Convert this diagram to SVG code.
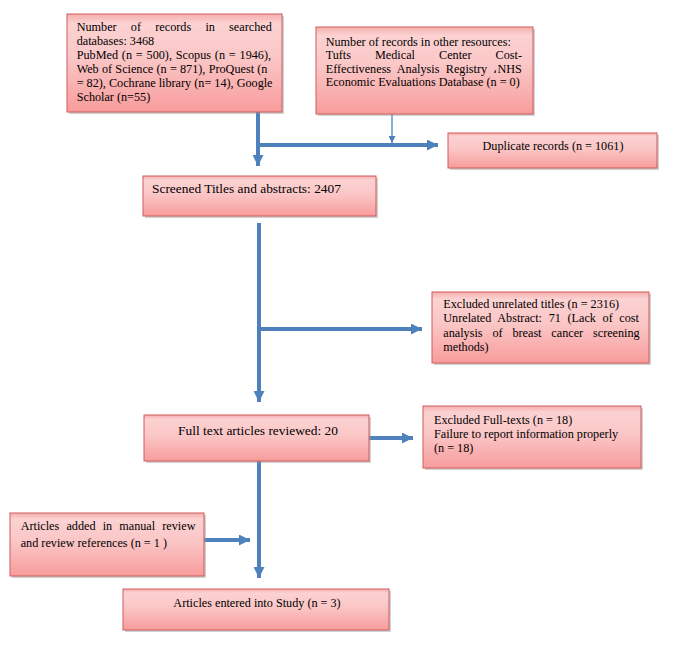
<svg xmlns="http://www.w3.org/2000/svg" width="675" height="645" viewBox="0 0 675 645">
<defs>
<linearGradient id="pink" x1="0" y1="0" x2="0" y2="1">
<stop offset="0" stop-color="#f5aeae"/>
<stop offset="0.1" stop-color="#fcd2d2"/>
<stop offset="0.45" stop-color="#fbc6c6"/>
<stop offset="1" stop-color="#f89c9c"/>
</linearGradient>
<marker id="ah" viewBox="0 0 10 10" refX="10" refY="5" markerWidth="11" markerHeight="11" markerUnits="userSpaceOnUse" orient="auto">
<path d="M0,0 L10,5 L0,10 z" fill="#4f81bd"/>
</marker>
<marker id="ahs" viewBox="0 0 10 10" refX="10" refY="5" markerWidth="7" markerHeight="7" markerUnits="userSpaceOnUse" orient="auto">
<path d="M0,0 L10,5 L0,10 z" fill="#4f81bd"/>
</marker>
</defs>
<style>
.box{fill:url(#pink);stroke:#cf5c5a;stroke-width:1}
.sh{fill:#9a9a9a;opacity:0.45}
.t{font-family:"Liberation Serif","Times New Roman",serif;font-size:12.2px;fill:#000}
.tb{font-family:"Liberation Serif","Times New Roman",serif;font-size:13.4px;fill:#000}
.c{fill:none;stroke:#4f81bd;stroke-width:4}
.cs{fill:none;stroke:#4f81bd;stroke-width:1.3}
</style>
<rect width="675" height="645" fill="#fff"/>

<g id="connectors">
<path class="c" d="M258,112 V166" marker-end="url(#ah)"/>
<path class="c" d="M256,145 H438" marker-end="url(#ah)"/>
<path class="cs" d="M392,114 V143" marker-end="url(#ahs)"/>
<path class="c" d="M259,223 V402" marker-end="url(#ah)"/>
<path class="c" d="M257,329 H422" marker-end="url(#ah)"/>
<path class="c" d="M369,438 H413" marker-end="url(#ah)"/>
<path class="c" d="M259,461 V578" marker-end="url(#ah)"/>
<path class="c" d="M204,540 H250" marker-end="url(#ah)"/>
</g>

<g id="n-databases">
<rect class="sh" x="69" y="16" width="215" height="98"/>
<rect class="box" x="67" y="14" width="215" height="98"/>
<text class="t" x="76.7" y="31" word-spacing="11.2">Number of records in searched</text>
<text class="t" x="76.7" y="45.2">databases: 3468</text>
<text class="t" x="76.7" y="59" word-spacing="0.8">PubMed (n = 500), Scopus (n = 1946),</text>
<text class="t" x="76.7" y="73.2" word-spacing="0.2">Web of Science (n = 871), ProQuest (n</text>
<text class="t" x="76.7" y="87">= 82), Cochrane library (n= 14), Google</text>
<text class="t" x="76.7" y="101">Scholar (n=55)</text>
</g>

<g id="n-other">
<rect class="sh" x="318" y="29" width="217" height="87"/>
<rect class="box" x="316" y="27" width="217" height="87"/>
<text class="t" x="325.7" y="45.5">Number of records in other resources:</text>
<text class="t" x="325.7" y="59" word-spacing="21">Tufts Medical Center Cost-</text>
<text class="t" x="325.7" y="72.5" word-spacing="3.3">Effectiveness Analysis Registry ،NHS</text>
<text class="t" x="325.7" y="86">Economic Evaluations Database (n = 0)</text>
</g>

<g id="n-duplicate">
<rect class="sh" x="450" y="135" width="209" height="35"/>
<rect class="box" x="448" y="133" width="209" height="35"/>
<text class="t" x="553" y="150" text-anchor="middle">Duplicate records (n = 1061)</text>
</g>

<g id="n-screened">
<rect class="sh" x="145" y="178" width="233" height="40"/>
<rect class="box" x="143" y="176" width="233" height="40"/>
<text class="tb" x="152" y="192.5">Screened Titles and abstracts: 2407</text>
</g>

<g id="n-excluded">
<rect class="sh" x="434" y="294" width="217" height="71"/>
<rect class="box" x="432" y="292" width="217" height="71"/>
<text class="t" x="443.3" y="308">Excluded unrelated titles (n = 2316)</text>
<text class="t" x="443.3" y="322.3" word-spacing="3.6">Unrelated Abstract: 71 (Lack of cost</text>
<text class="t" x="443.3" y="336.6" word-spacing="6.8">analysis of breast cancer screening</text>
<text class="t" x="443.3" y="350.8">methods)</text>
</g>

<g id="n-fulltext">
<rect class="sh" x="146" y="417" width="225" height="46"/>
<rect class="box" x="144" y="415" width="225" height="46"/>
<text class="tb" x="258" y="434.5" text-anchor="middle">Full text articles reviewed: 20</text>
</g>

<g id="n-excluded-full">
<rect class="sh" x="425" y="408" width="218" height="62"/>
<rect class="box" x="423" y="406" width="218" height="62"/>
<text class="t" x="434" y="423.5">Excluded Full-texts (n = 18)</text>
<text class="t" x="434" y="437.5">Failure to report information properly</text>
<text class="t" x="434" y="451.5">(n = 18)</text>
</g>

<g id="n-added">
<rect class="sh" x="12" y="515" width="194" height="63"/>
<rect class="box" x="10" y="513" width="194" height="63"/>
<text class="t" x="20.7" y="530" word-spacing="4.1">Articles added in manual review</text>
<text class="t" x="20.7" y="547">and review references (n = 1 )</text>
</g>

<g id="n-entered">
<rect class="sh" x="125" y="591" width="266" height="41"/>
<rect class="box" x="123" y="589" width="266" height="41"/>
<text class="t" x="257" y="607" text-anchor="middle">Articles entered into Study (n = 3)</text>
</g>
</svg>
